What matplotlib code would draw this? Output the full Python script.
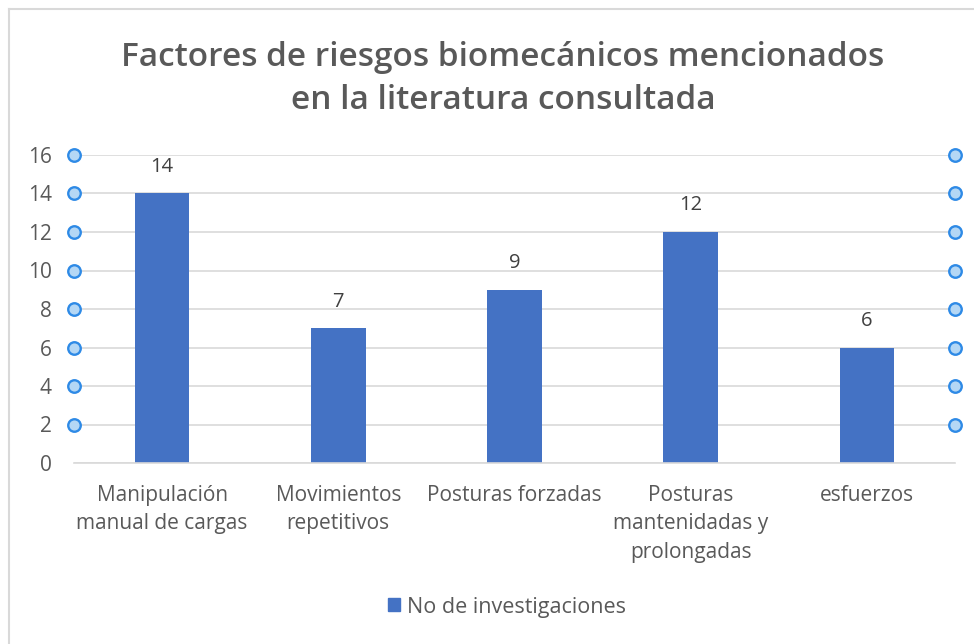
import numpy as np
import matplotlib.pyplot as plt
from matplotlib.lines import Line2D

# Chart data
categorias = ["Manipulación\nmanual de cargas", "Movimientos\nrepetitivos",
              "Posturas forzadas", "Posturas\nmantenidadas y\nprolongadas", "esfuerzos"]
investigaciones = [14, 7, 9, 12, 6]
y_ticks = [0, 2, 4, 6, 8, 10, 12, 14, 16]
titulo = "Factores de riesgos biomecánicos mencionados\nen la literatura consultada"
serie = "No de investigaciones"

plt.rcParams["font.family"] = ["Open Sans", "DejaVu Sans"]
gris = "#595959"
azul = "#4472C4"
linea = "#d9d9d9"

fig = plt.figure(figsize=(9.74, 6.44), dpi=100)

# Chart border (only top and left visible in the reference)
fig.add_artist(Line2D([9 / 974, 9 / 974], [0, 1 - 9 / 644], color="#d9d9d9", lw=1.5))
fig.add_artist(Line2D([9 / 974, 1], [1 - 9 / 644, 1 - 9 / 644], color="#d9d9d9", lw=1.5))

ax = fig.add_axes([74 / 974, (644 - 463) / 644, (955 - 74) / 974, 308 / 644])

x = np.arange(len(categorias))
ax.bar(x, investigaciones, width=0.31, color=azul, zorder=2)

for xi, v in zip(x, investigaciones):
    ax.annotate(str(v), (xi, v), xytext=(0, 12), textcoords="offset points",
                ha="center", va="bottom", fontsize=14.5, color="#404040")

ax.set_xlim(-0.5, len(categorias) - 0.5)
ax.set_ylim(0, 16)
ax.set_yticks(y_ticks)
ax.set_xticks(x)
ax.set_xticklabels(categorias, fontsize=15, color=gris, linespacing=1.45)
ax.tick_params(axis="y", labelsize=15, labelcolor=gris, length=0, pad=16)
ax.tick_params(axis="x", length=0, pad=16)

ax.grid(axis="y", color=linea, lw=1.2, zorder=0)
for s in ["top", "right", "left"]:
    ax.spines[s].set_visible(False)
ax.spines["bottom"].set_color(linea)
ax.spines["bottom"].set_linewidth(1.2)

# Selection handles at the ends of the gridlines
handles_y = y_ticks[1:]
for xe in ax.get_xlim():
    ax.plot([xe] * len(handles_y), handles_y, "o", ms=9, mfc="#b4d7f5", mec="#2e8ae6",
            mew=1.7, clip_on=False, zorder=5)

fig.text(503 / 974, 1 - 79 / 644, titulo, ha="center", va="center", fontsize=24,
         fontweight="semibold", color=gris, linespacing=1.4)

leg_handle = plt.Rectangle((0, 0), 1, 1, color=azul)
fig.legend([leg_handle], [serie], loc="center", bbox_to_anchor=(507 / 974, 1 - 607 / 644),
           frameon=False, fontsize=15.5, handlelength=0.55, handleheight=0.55,
           handletextpad=0.35, labelcolor=gris)

fig.savefig("out.png", dpi=100)
